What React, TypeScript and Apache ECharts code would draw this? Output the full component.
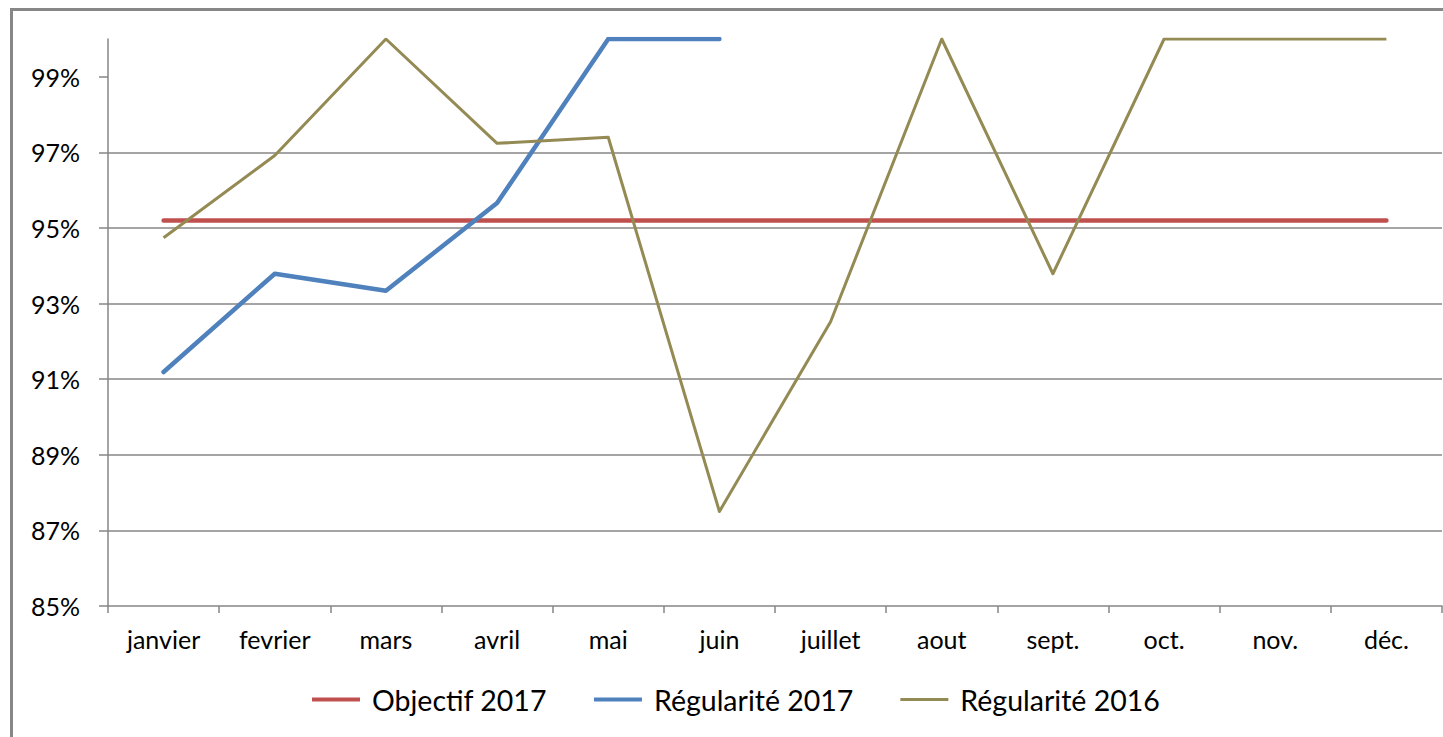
import React, { useEffect, useRef } from "react";
import * as echarts from "echarts";

const months = ["janvier", "fevrier", "mars", "avril", "mai", "juin", "juillet", "aout", "sept.", "oct.", "nov.", "déc."];
const objectif2017 = [95.2, 95.2, 95.2, 95.2, 95.2, 95.2, 95.2, 95.2, 95.2, 95.2, 95.2, 95.2];
const regularite2017: (number | null)[] = [91.19, 93.79, 93.34, 95.66, 100, 100, null, null, null, null, null, null];
const regularite2016 = [94.74, 96.92, 100, 97.24, 97.4, 87.5, 92.52, 100, 93.79, 100, 100, 100];
const yTicks = [85, 87, 89, 91, 93, 95, 97, 99];

const FONT = "Lato, 'Open Sans', sans-serif";

const thickIcon = "path://M0,0 L0.01,0 L0.01,0.01 Z M0,0.5 H48 V4.5 H0 Z M0,5 L0.01,5 L0.01,4.99 Z";
const thinIcon = "path://M0,0 L0.01,0 L0.01,0.01 Z M0,1 H48 V4 H0 Z M0,5 L0.01,5 L0.01,4.99 Z";

export default function App() {
  const ref = useRef<HTMLDivElement>(null);
  useEffect(() => {
    if (!ref.current) return;
    const chart = echarts.init(ref.current, undefined, { renderer: "svg" });
    chart.setOption({
      animation: false,
      backgroundColor: "#ffffff",
      textStyle: { fontFamily: FONT },
      graphic: [
        {
          type: "rect",
          shape: { x: 11.5, y: 9.5, width: 1600, height: 900 },
          style: { fill: "none", stroke: "#878787", lineWidth: 3 },
          silent: true,
          z: 100,
        },
      ],
      grid: { left: 108, top: 39, right: 1, bottom: 131, containLabel: false },
      legend: {
        top: 680,
        left: 307,
        itemWidth: 48,
        itemHeight: 5,
        itemGap: 47,
        textStyle: { fontFamily: FONT, fontSize: 28.5, color: "#000", padding: [0, 0, 0, 7] },
        data: [
          { name: "Objectif 2017", icon: thickIcon, itemStyle: { color: "#C0504D" } },
          { name: "Régularité 2017", icon: thickIcon, itemStyle: { color: "#4F81BD" } },
          { name: "Régularité 2016", icon: thinIcon, itemStyle: { color: "#948A54" } },
        ],
      },
      xAxis: {
        type: "category",
        data: months,
        boundaryGap: true,
        axisLine: { lineStyle: { color: "#868686", width: 1.5 } },
        axisTick: { show: true, length: 7, lineStyle: { color: "#868686", width: 1.5 } },
        axisLabel: { fontFamily: FONT, fontSize: 25, color: "#000", margin: 20, interval: 0 },
        splitLine: { show: false },
      },
      yAxis: {
        type: "value",
        min: 85,
        max: 100,
        interval: 2,
        axisLine: { show: true, lineStyle: { color: "#868686", width: 1.5 } },
        axisTick: { show: true, length: 9, customValues: yTicks, lineStyle: { color: "#868686", width: 1.5 } },
        axisLabel: {
          fontFamily: FONT,
          fontSize: 25,
          color: "#000",
          margin: 28,
          customValues: yTicks,
          formatter: (v: number) => `${v}%`,
        },
        splitLine: { show: true, showMaxLine: false, showMinLine: false, lineStyle: { color: "#868686", width: 1.5 } },
      },
      series: [
        {
          name: "Objectif 2017",
          type: "line",
          data: objectif2017,
          symbol: "none",
          lineStyle: { color: "#C0504D", width: 4.5, cap: "round" },
          itemStyle: { color: "#C0504D" },
          z: 3,
        },
        {
          name: "Régularité 2017",
          type: "line",
          data: regularite2017,
          symbol: "none",
          lineStyle: { color: "#4F81BD", width: 4.5, cap: "round", join: "round" },
          itemStyle: { color: "#4F81BD" },
          z: 4,
        },
        {
          name: "Régularité 2016",
          type: "line",
          data: regularite2016,
          symbol: "none",
          lineStyle: { color: "#948A54", width: 3, join: "round" },
          itemStyle: { color: "#948A54" },
          z: 5,
        },
      ],
    });
    return () => chart.dispose();
  }, []);
  return (
    <div
      ref={ref}
      style={{ position: "absolute", left: 0, top: 0, width: 1443, height: 737 }}
    />
  );
}
